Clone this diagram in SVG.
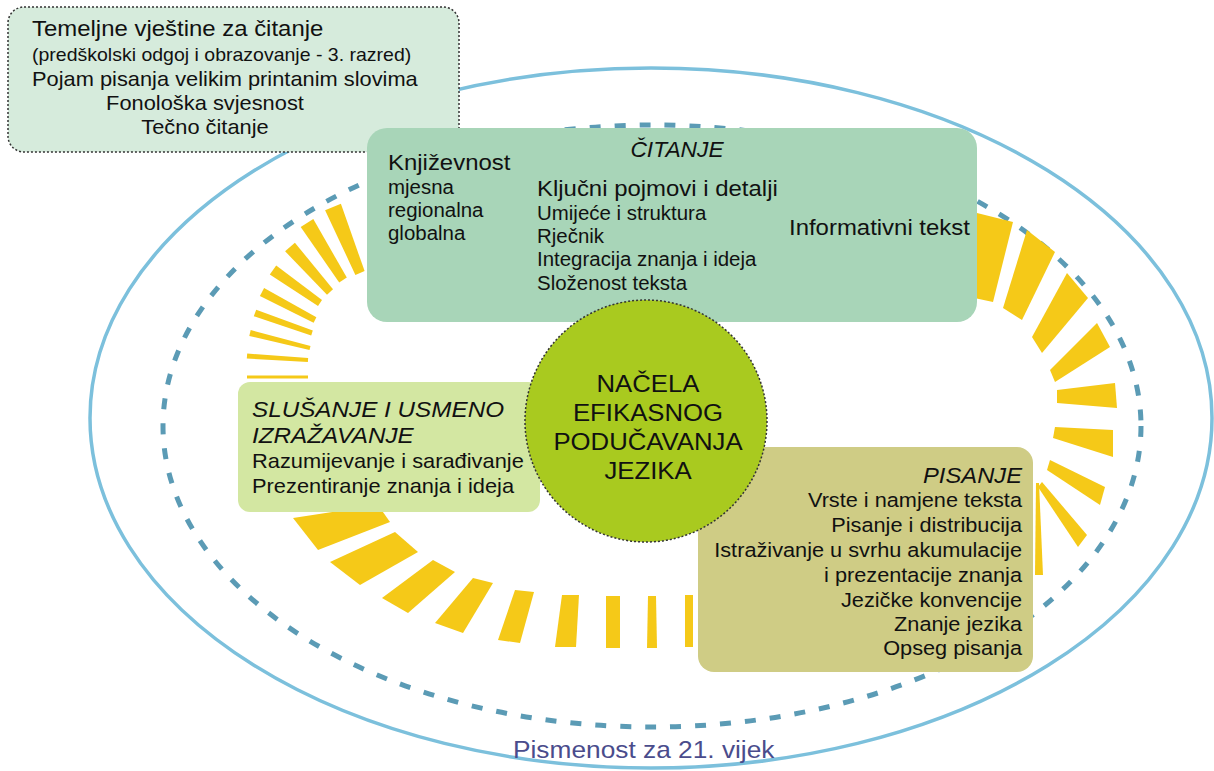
<svg xmlns="http://www.w3.org/2000/svg" width="1214" height="771" viewBox="0 0 1214 771">
<defs>
<style>
.txt{font-family:"Liberation Sans",Arial,"DejaVu Sans",sans-serif;fill:#111111}
.it{font-style:italic}
.ray{fill:#f5c918}
.dot{stroke:#333333;stroke-width:1.5;stroke-dasharray:2 2}
</style>
</defs>
<rect width="1214" height="771" fill="#ffffff"/>
<g id="frame">
<ellipse cx="651" cy="418" rx="561" ry="350" fill="none" stroke="#7cc0dc" stroke-width="3.5"/>
<ellipse cx="652" cy="426" rx="489" ry="301" fill="none" stroke="#5b9bb5" stroke-width="5" stroke-dasharray="11 14"/>
</g>
<g id="rays">
<polygon class="ray" points="364.6,271.1 340.9,203.8 325.1,210.2 355.4,274.9"/>
<polygon class="ray" points="346.8,277.6 313.3,219.0 300.7,227.0 339.2,282.4"/>
<polygon class="ray" points="333.0,289.3 294.9,242.7 285.1,251.3 327.0,294.7"/>
<polygon class="ray" points="322.0,300.1 276.2,265.5 269.8,274.5 318.0,305.9"/>
<polygon class="ray" points="316.4,317.3 264.1,288.0 259.9,296.0 313.6,322.7"/>
<polygon class="ray" points="312.8,330.6 256.2,309.7 253.8,316.3 311.2,335.4"/>
<polygon class="ray" points="310.5,346.1 250.7,330.1 249.3,335.9 309.5,349.9"/>
<polygon class="ray" points="308.1,358 247.2,353.5 246.8,358.5 307.9,362"/>
<polygon class="ray" points="308,375.5 247,375.5 247,378.5 308,378.5"/>
<polygon class="ray" points="293,518 318,550 390,522 378,505"/>
<polygon class="ray" points="330,562 360,585 418,552 395,532"/>
<polygon class="ray" points="382,598 408,613 455,572 433,560"/>
<polygon class="ray" points="435,623 463,633 493,583 473,578"/>
<polygon class="ray" points="498,640 520,643 534,592 515,590"/>
<polygon class="ray" points="555,647 576,647 579,595 562,595"/>
<polygon class="ray" points="606,648 620,648 620,596 606,596"/>
<polygon class="ray" points="647,648 657,648 656,596 648,596"/>
<polygon class="ray" points="685,647 693,647 693,595 685,595"/>
<polygon class="ray" points="965,210 1013,222 993,302 965,296"/>
<polygon class="ray" points="1027,230 1055,252 1022,320 1003,308"/>
<polygon class="ray" points="1067,273 1088,298 1042,353 1032,337"/>
<polygon class="ray" points="1097,323 1110,347 1055,382 1050,370"/>
<polygon class="ray" points="1115,383 1117,408 1057,403 1057,390"/>
<polygon class="ray" points="1113,430 1113,457 1053,438 1055,427"/>
<polygon class="ray" points="1105,487 1100,505 1047,470 1050,460"/>
<polygon class="ray" points="1087,535 1078,547 1038,487 1042,482"/>
<polygon class="ray" points="1043,575 1035,575 1036,483 1039,483"/>
</g>
<g id="connectors"></g>
<g id="basics">
<rect x="8" y="7" width="451" height="145" rx="16" fill="#d6ebdc" class="dot"/>
<text class="txt" font-size="22.6" transform="translate(32 36) scale(1.06 1)">Temeljne vještine za čitanje</text>
<text class="txt" font-size="18.4" transform="translate(32 61) scale(1.06 1)">(predškolski odgoj i obrazovanje - 3. razred)</text>
<text class="txt" font-size="20.6" transform="translate(32 86) scale(1.06 1)">Pojam pisanja velikim printanim slovima</text>
<text class="txt" font-size="20.6" text-anchor="middle" transform="translate(205 110) scale(1.06 1)">Fonološka svjesnost</text>
<text class="txt" font-size="20.6" text-anchor="middle" transform="translate(205 134) scale(1.06 1)">Tečno čitanje</text>
</g>
<g id="reading">
<rect x="367" y="128" width="610" height="194" rx="20" fill="#a8d5b8"/>
<text class="txt it" font-size="21.5" text-anchor="middle" transform="translate(677 157) scale(1.06 1)">ČITANJE</text>
<text class="txt" font-size="22.6" transform="translate(388 170) scale(1.06 1)">Književnost</text>
<text class="txt" font-size="19.3" transform="translate(388 194) scale(1.06 1)">mjesna</text>
<text class="txt" font-size="19.3" transform="translate(388 217) scale(1.06 1)">regionalna</text>
<text class="txt" font-size="19.3" transform="translate(388 240) scale(1.06 1)">globalna</text>
<text class="txt" font-size="22.6" transform="translate(537 196) scale(1.06 1)">Ključni pojmovi i detalji</text>
<text class="txt" font-size="19.3" transform="translate(537 220) scale(1.06 1)">Umijeće i struktura</text>
<text class="txt" font-size="19.3" transform="translate(537 243) scale(1.06 1)">Rječnik</text>
<text class="txt" font-size="19.3" transform="translate(537 266) scale(1.06 1)">Integracija znanja i ideja</text>
<text class="txt" font-size="19.3" transform="translate(537 290) scale(1.06 1)">Složenost teksta</text>
<text class="txt" font-size="22.6" transform="translate(789 235) scale(1.06 1)">Informativni tekst</text>
</g>
<g id="listening">
<rect x="238" y="382" width="302" height="130" rx="12" fill="#d3e7a2"/>
<text class="txt it" font-size="22.9" transform="translate(252 417) scale(1.06 1)">SLUŠANJE I USMENO</text>
<text class="txt it" font-size="22.9" transform="translate(252 443) scale(1.06 1)">IZRAŽAVANJE</text>
<text class="txt" font-size="20.6" transform="translate(252 468) scale(1.06 1)">Razumijevanje i sarađivanje</text>
<text class="txt" font-size="20.6" transform="translate(252 493) scale(1.06 1)">Prezentiranje znanja i ideja</text>
</g>
<g id="writing">
<rect x="698" y="447" width="335" height="225" rx="16" fill="#cfcc85"/>
<text class="txt it" font-size="22.4" text-anchor="end" transform="translate(1022 483) scale(1.06 1)">PISANJE</text>
<text class="txt" font-size="20.5" text-anchor="end" transform="translate(1022 507) scale(1.06 1)">Vrste i namjene teksta</text>
<text class="txt" font-size="20.5" text-anchor="end" transform="translate(1022 532) scale(1.06 1)">Pisanje i distribucija</text>
<text class="txt" font-size="20.5" text-anchor="end" transform="translate(1022 557) scale(1.06 1)">Istraživanje u svrhu akumulacije</text>
<text class="txt" font-size="20.5" text-anchor="end" transform="translate(1022 582) scale(1.06 1)">i prezentacije znanja</text>
<text class="txt" font-size="20.5" text-anchor="end" transform="translate(1022 607) scale(1.06 1)">Jezičke konvencije</text>
<text class="txt" font-size="20.5" text-anchor="end" transform="translate(1022 631) scale(1.06 1)">Znanje jezika</text>
<text class="txt" font-size="20.5" text-anchor="end" transform="translate(1022 655) scale(1.06 1)">Opseg pisanja</text>
</g>
<g id="center">
<circle cx="646" cy="421" r="121" fill="#a9ca1f" class="dot"/>
<text class="txt" font-size="24.3" text-anchor="middle" transform="translate(648 392) scale(1.06 1)">NAČELA</text>
<text class="txt" font-size="24.3" text-anchor="middle" transform="translate(648 421) scale(1.06 1)">EFIKASNOG</text>
<text class="txt" font-size="24.3" text-anchor="middle" transform="translate(648 450) scale(1.06 1)">PODUČAVANJA</text>
<text class="txt" font-size="24.3" text-anchor="middle" transform="translate(648 479) scale(1.06 1)">JEZIKA</text>
</g>
<g id="title">
<text font-family="Liberation Sans, Arial, sans-serif" font-size="24.8" fill="#4a4c8c" transform="translate(513 758) scale(1.06 1)">Pismenost za 21. vijek</text>
</g>
</svg>
